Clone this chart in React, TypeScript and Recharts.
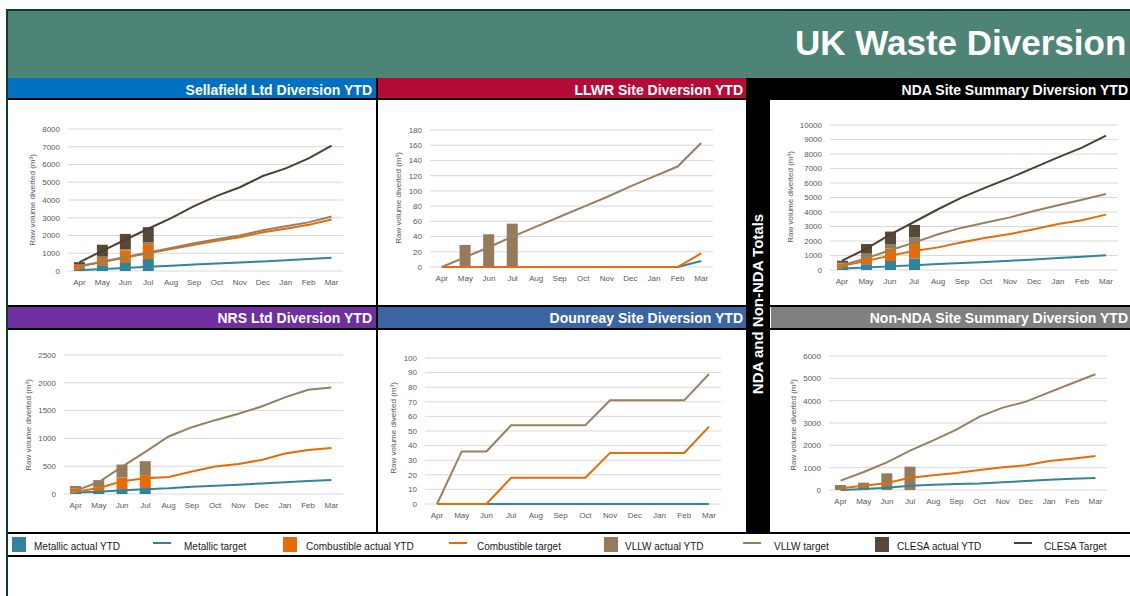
import React from 'react';
import { ComposedChart, Bar, Line, XAxis, YAxis, CartesianGrid } from 'recharts';

const months = ['Apr', 'May', 'Jun', 'Jul', 'Aug', 'Sep', 'Oct', 'Nov', 'Dec', 'Jan', 'Feb', 'Mar'];

// Sellafield Ltd
const sfMetallicActual = [60, 330, 500, 680];
const sfCombustibleActual = [280, 400, 660, 835];
const sfVllwActual = [20, 80, 70, 95];
const sfClesaActual = [140, 670, 860, 860];
const sfMetallicTarget = [40, 110, 170, 240, 300, 360, 420, 480, 540, 600, 670, 750];
const sfCombustibleTarget = [260, 500, 760, 1000, 1240, 1480, 1700, 1900, 2180, 2380, 2600, 2900];
const sfVllwTarget = [280, 520, 790, 1040, 1290, 1560, 1790, 2000, 2300, 2520, 2740, 3070];
const sfClesaTarget = [500, 1130, 1760, 2380, 2980, 3660, 4230, 4720, 5350, 5780, 6340, 7060];

// LLWR
const llwrVllwActual = [0, 29, 43, 57];
const llwrMetallicTarget = [0, 0, 0, 0, 0, 0, 0, 0, 0, 0, 0, 8];
const llwrCombustibleTarget = [0, 0, 0, 0, 0, 0, 0, 0, 0, 0, 0, 18];
const llwrVllwTarget = [0, 13, 26, 40, 53, 66, 79, 92, 106, 119, 132, 163];

// NDA Site Summary
const ndaMetallicActual = [120, 400, 620, 800];
const ndaCombustibleActual = [340, 500, 870, 990];
const ndaVllwActual = [40, 230, 300, 460];
const ndaClesaActual = [140, 660, 860, 860];
const ndaMetallicTarget = [100, 180, 250, 330, 410, 480, 560, 640, 720, 820, 910, 1010];
const ndaCombustibleTarget = [300, 620, 990, 1310, 1560, 1910, 2230, 2480, 2810, 3170, 3430, 3820];
const ndaVllwTarget = [330, 800, 1360, 1890, 2460, 2920, 3270, 3630, 4070, 4460, 4850, 5240];
const ndaClesaTarget = [640, 1450, 2440, 3310, 4190, 5010, 5700, 6350, 7060, 7770, 8440, 9270];

// NRS Ltd
const nrsMetallicActual = [30, 45, 80, 105];
const nrsCombustibleActual = [75, 75, 215, 235];
const nrsVllwActual = [40, 130, 235, 250];
const nrsMetallicTarget = [25, 40, 66, 85, 102, 132, 150, 168, 190, 210, 232, 252];
const nrsCombustibleTarget = [40, 108, 228, 282, 306, 403, 493, 541, 613, 727, 793, 829];
const nrsVllwTarget = [60, 216, 493, 757, 1034, 1202, 1328, 1442, 1574, 1737, 1875, 1917];

// Dounreay
const drMetallicTarget = [0, 0, 0, 0, 0, 0, 0, 0, 0, 0, 0, 0];
const drCombustibleTarget = [0, 0, 0, 18, 18, 18, 18, 35, 35, 35, 35, 53];
const drVllwTarget = [0, 36, 36, 54, 54, 54, 54, 71, 71, 71, 71, 89];

// Non-NDA Site Summary
const nnVllwActual = [224, 328, 746, 1045];
const nnMetallicTarget = [0, 50, 104, 194, 230, 269, 290, 343, 403, 463, 500, 537];
const nnCombustibleTarget = [75, 194, 313, 552, 657, 761, 896, 1015, 1105, 1299, 1403, 1523];
const nnVllwTarget = [418, 806, 1239, 1762, 2225, 2702, 3285, 3688, 3956, 4374, 4778, 5181];

const sfTicks = [0, 1000, 2000, 3000, 4000, 5000, 6000, 7000, 8000];
const llwrTicks = [0, 20, 40, 60, 80, 100, 120, 140, 160, 180];
const ndaTicks = [0, 1000, 2000, 3000, 4000, 5000, 6000, 7000, 8000, 9000, 10000];
const nrsTicks = [0, 500, 1000, 1500, 2000, 2500];
const drTicks = [0, 10, 20, 30, 40, 50, 60, 70, 80, 90, 100];
const nnTicks = [0, 1000, 2000, 3000, 4000, 5000, 6000];

const TEAL = '#31849B';
const ORANGE = '#E46C0A';
const VLLW = '#937B5B';
const CLESA = '#584838';
const VLLW_LINE = '#9A7F5E';
const CLESA_LINE = '#4E3F30';

type Arr = (number | null)[] | undefined;
interface Series { ma?: Arr; ca?: Arr; va?: Arr; ka?: Arr; mt?: Arr; ct?: Arr; vt?: Arr; kt?: Arr; }

const makeRows = (s: Series) =>
  months.map((m, i) => ({
    month: m,
    ma: s.ma?.[i] ?? null,
    ca: s.ca?.[i] ?? null,
    va: s.va?.[i] ?? null,
    ka: s.ka?.[i] ?? null,
    mt: s.mt?.[i] ?? null,
    ct: s.ct?.[i] ?? null,
    vt: s.vt?.[i] ?? null,
    kt: s.kt?.[i] ?? null,
  }));

interface PanelProps {
  L: number; T: number; W: number; H: number;
  px0: number; px1: number; py0: number; py1: number;
  series: Series; ticks: number[];
}

const YW = 40;
const XH = 20;

function Panel({ L, T, W, H, px0, px1, py0, py1, series, ticks }: PanelProps) {
  const rows = makeRows(series);
  const margin = { left: px0 - L - YW, right: L + W - px1, top: py0 - T, bottom: T + H - py1 - XH };
  const tickStyle = { fontSize: 8, fill: '#595959' };
  const hasBars = !!(series.ma || series.ca || series.va || series.ka);
  const half = Math.round((px1 - px0) / months.length / 2);
  const padding = hasBars ? undefined : { left: half, right: half };
  return (
    <div style={{ position: 'absolute', left: L, top: T, width: W, height: H }}>
      <ComposedChart width={W} height={H} data={rows} margin={margin}>
        <CartesianGrid vertical={false} stroke="#D9D9D9" strokeWidth={1} />
        <XAxis dataKey="month" axisLine={false} tickLine={false} interval={0} height={XH} tick={tickStyle} padding={padding} />
        <YAxis type="number" domain={[0, ticks[ticks.length - 1]]} ticks={ticks} interval={0}
          axisLine={false} tickLine={false} width={YW} tick={tickStyle} />
        {series.ma && <Bar dataKey="ma" stackId="a" fill={TEAL} barSize={11} isAnimationActive={false} />}
        {series.ca && <Bar dataKey="ca" stackId="a" fill={ORANGE} barSize={11} isAnimationActive={false} />}
        {series.va && <Bar dataKey="va" stackId="a" fill={VLLW} barSize={11} isAnimationActive={false} />}
        {series.ka && <Bar dataKey="ka" stackId="a" fill={CLESA} barSize={11} isAnimationActive={false} />}
        {series.mt && <Line dataKey="mt" type="linear" stroke={TEAL} strokeWidth={2} dot={false} isAnimationActive={false} />}
        {series.ct && <Line dataKey="ct" type="linear" stroke={ORANGE} strokeWidth={2} dot={false} isAnimationActive={false} />}
        {series.vt && <Line dataKey="vt" type="linear" stroke={VLLW_LINE} strokeWidth={2} dot={false} isAnimationActive={false} />}
        {series.kt && <Line dataKey="kt" type="linear" stroke={CLESA_LINE} strokeWidth={2} dot={false} isAnimationActive={false} />}
      </ComposedChart>
    </div>
  );
}

const axisTitle = 'Raw volume diverted (m³)';
const axisTitlePos = [
  [32, 200], [398, 198], [790, 197], [28, 425], [393, 428], [793, 425],
];

const legendItems = [
  { kind: 'box', x: 12, color: TEAL, text: 'Metallic actual YTD', tx: 34 },
  { kind: 'line', x: 153, color: TEAL, text: 'Metallic target', tx: 184 },
  { kind: 'box', x: 283, color: ORANGE, text: 'Combustible actual YTD', tx: 306 },
  { kind: 'line', x: 449, color: ORANGE, text: 'Combustible target', tx: 477 },
  { kind: 'box', x: 604, color: VLLW, text: 'VLLW actual YTD', tx: 625 },
  { kind: 'line', x: 743, color: VLLW_LINE, text: 'VLLW target', tx: 774 },
  { kind: 'box', x: 875, color: CLESA, text: 'CLESA actual YTD', tx: 897 },
  { kind: 'line', x: 1014, color: CLESA_LINE, text: 'CLESA Target', tx: 1044 },
];

const headers = [
  { x: 8, y: 78, w: 368, fill: '#0070C0', text: 'Sellafield Ltd Diversion YTD', tx: 372, ty: 95 },
  { x: 378, y: 78, w: 368, fill: '#B30C37', text: 'LLWR Site Diversion YTD', tx: 743, ty: 95 },
  { x: 746, y: 78, w: 384, fill: '#000000', text: 'NDA Site Summary Diversion YTD', tx: 1128, ty: 95 },
  { x: 8, y: 307, w: 368, fill: '#7030A0', text: 'NRS Ltd Diversion YTD', tx: 372, ty: 323 },
  { x: 378, y: 307, w: 368, fill: '#3C66A3', text: 'Dounreay Site Diversion YTD', tx: 743, ty: 323 },
  { x: 771, y: 307, w: 359, fill: '#808080', text: 'Non-NDA Site Summary Diversion YTD', tx: 1128, ty: 323 },
];

export default function App() {
  const font = '"Liberation Sans", Arial, sans-serif';
  return (
    <div style={{ position: 'absolute', left: 0, top: 0, width: 1130, height: 596, overflow: 'hidden', background: '#fff', fontFamily: font }}>
      <svg width={1130} height={596} style={{ position: 'absolute', left: 0, top: 0 }} fontFamily={font}>
        <rect x={0} y={0} width={1130} height={596} fill="#fff" />
        <rect x={6} y={9} width={1124} height={2} fill="#0D3B2E" />
        <rect x={8} y={11} width={1122} height={67} fill="#4E8475" />
        <text x={795} y={55} fontSize={35} fontWeight="bold" fill="#fff">UK Waste Diversion</text>
        {headers.map((h, i) => (
          <g key={i}>
            <rect x={h.x} y={h.y} width={h.w} height={h.y === 78 ? 20 : 21} fill={h.fill} />
            <text x={h.tx} y={h.ty} fontSize={14} fontWeight="bold" fill="#fff" textAnchor="end">{h.text}</text>
          </g>
        ))}
        <rect x={8} y={98} width={1122} height={2} fill="#000" />
        <rect x={8} y={305} width={1122} height={2} fill="#000" />
        <rect x={8} y={328} width={1122} height={2} fill="#000" />
        <rect x={376} y={78} width={2} height={455} fill="#000" />
        <rect x={746} y={78} width={24} height={455} fill="#000" />
        <rect x={8} y={532} width={1122} height={2} fill="#000" />
        <rect x={8} y={555} width={1122} height={2} fill="#000" />
        <rect x={6} y={9} width={2} height={587} fill="#0D3B2E" />
        <text transform="translate(758,304) rotate(-90)" dy="0.35em" textAnchor="middle" fontSize={15} fontWeight="bold" fill="#fff">NDA and Non-NDA Totals</text>
        {axisTitlePos.map(([x, y], i) => (
          <text key={i} transform={`translate(${x},${y}) rotate(-90)`} dy="0.35em" textAnchor="middle" fontSize={8} fill="#595959">{axisTitle}</text>
        ))}
        {legendItems.map((it, i) => (
          <g key={i}>
            {it.kind === 'box'
              ? <rect x={it.x} y={537} width={14} height={15} fill={it.color} />
              : <rect x={it.x} y={542} width={18} height={2} fill={it.color} />}
            <text x={it.tx} y={550} fontSize={10} fill="#1a1a1a">{it.text}</text>
          </g>
        ))}
      </svg>
      <Panel L={8} T={100} W={368} H={205} px0={68} px1={343} py0={129} py1={271} ticks={sfTicks}
        series={{ ma: sfMetallicActual, ca: sfCombustibleActual, va: sfVllwActual, ka: sfClesaActual,
          mt: sfMetallicTarget, ct: sfCombustibleTarget, vt: sfVllwTarget, kt: sfClesaTarget }} />
      <Panel L={378} T={100} W={368} H={205} px0={430} px1={713} py0={130} py1={267} ticks={llwrTicks}
        series={{ va: llwrVllwActual, mt: llwrMetallicTarget, ct: llwrCombustibleTarget, vt: llwrVllwTarget }} />
      <Panel L={770} T={100} W={360} H={205} px0={830} px1={1118} py0={125} py1={270} ticks={ndaTicks}
        series={{ ma: ndaMetallicActual, ca: ndaCombustibleActual, va: ndaVllwActual, ka: ndaClesaActual,
          mt: ndaMetallicTarget, ct: ndaCombustibleTarget, vt: ndaVllwTarget, kt: ndaClesaTarget }} />
      <Panel L={8} T={330} W={368} H={202} px0={64} px1={343} py0={355} py1={494} ticks={nrsTicks}
        series={{ ma: nrsMetallicActual, ca: nrsCombustibleActual, va: nrsVllwActual,
          mt: nrsMetallicTarget, ct: nrsCombustibleTarget, vt: nrsVllwTarget }} />
      <Panel L={378} T={330} W={368} H={202} px0={425} px1={721} py0={358} py1={504} ticks={drTicks}
        series={{ mt: drMetallicTarget, ct: drCombustibleTarget, vt: drVllwTarget }} />
      <Panel L={770} T={330} W={360} H={202} px0={829} px1={1107} py0={356} py1={490} ticks={nnTicks}
        series={{ va: nnVllwActual, mt: nnMetallicTarget, ct: nnCombustibleTarget, vt: nnVllwTarget }} />
    </div>
  );
}
